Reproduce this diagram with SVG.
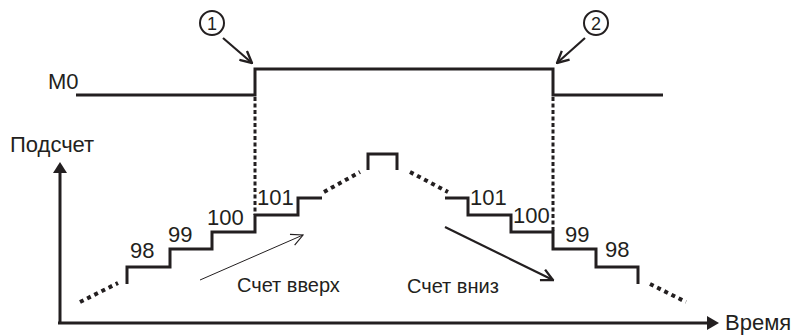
<svg xmlns="http://www.w3.org/2000/svg" width="798" height="335" viewBox="0 0 798 335">
<style>
.t{font-family:"Liberation Sans",Arial,sans-serif;font-size:22px;fill:#231f20}
.s{font-family:"Liberation Sans",Arial,sans-serif;font-size:20px;fill:#231f20}
.c{font-family:"Liberation Sans",Arial,sans-serif;font-size:18px;fill:#231f20}
.ln{fill:none;stroke:#231f20;stroke-width:3}
.dash{fill:none;stroke:#231f20;stroke-width:3;stroke-dasharray:4 2.5}
.dots{fill:none;stroke:#231f20;stroke-width:4;stroke-dasharray:4 4}
.ar{fill:none;stroke:#231f20;stroke-width:2.2}
</style>
<defs>
<marker id="openB" viewBox="0 0 12 12" refX="11" refY="6" markerWidth="14" markerHeight="14" orient="auto" markerUnits="userSpaceOnUse">
<path d="M1,1 L11,6 L1,11" fill="none" stroke="#231f20" stroke-width="2"/>
</marker>
<marker id="thin" viewBox="0 0 12 12" refX="11" refY="6" markerWidth="14" markerHeight="14" orient="auto" markerUnits="userSpaceOnUse">
<path d="M1,1 L11,6 L1,11" fill="none" stroke="#231f20" stroke-width="1"/>
</marker>
</defs>
<g id="m0-signal">
<text class="t" x="48" y="89">M0</text>
<polyline class="ln" points="76,95 255,95 255,69 553,69 553,95 663,95"/>
</g>
<g id="marker1">
<circle cx="212" cy="23" r="12" fill="none" stroke="#231f20" stroke-width="2"/>
<text class="c" x="212" y="29.5" text-anchor="middle">1</text>
</g>
<g id="marker2">
<circle cx="596" cy="23" r="12" fill="none" stroke="#231f20" stroke-width="2"/>
<text class="c" x="596" y="29.5" text-anchor="middle">2</text>
</g>
<g id="axes">
<line class="ln" x1="60" y1="170" x2="60" y2="323"/>
<polygon points="60,162 53,173 67,173" fill="#231f20"/>
<line class="ln" x1="58" y1="323" x2="710" y2="323"/>
<polygon points="719,323 707,316 707,330" fill="#231f20"/>
<text class="t" x="10" y="152">Подсчет</text>
<text class="t" x="725" y="330">Время</text>
</g>
<g id="count-steps">
<polyline class="ln" points="127,284 127,267 170,267 170,249 212,249 212,232 255,232 255,215 298,215 298,198 322,198"/>
<polyline class="ln" points="368,170 368,154 397,154 397,170"/>
<polyline class="ln" points="445,198 468,198 468,215 511,215 511,232 553,232 553,249 596,249 596,267 638,267 638,284"/>
<line class="dots" x1="80" y1="302" x2="118" y2="283"/>
<line class="dots" x1="324" y1="192" x2="360" y2="172"/>
<line class="dots" x1="410" y1="172" x2="448" y2="192"/>
<line class="dots" x1="650" y1="284" x2="686" y2="302"/>
<text class="t" x="130" y="258">98</text>
<text class="t" x="168" y="242">99</text>
<text class="t" x="207" y="225">100</text>
<text class="t" x="257" y="205">101</text>
<text class="t" x="470" y="205">101</text>
<text class="t" x="513" y="223">100</text>
<text class="t" x="565" y="242">99</text>
<text class="t" x="605" y="257">98</text>
<text class="s" x="237" y="292">Счет вверх</text>
<text class="s" x="407" y="293">Счет вниз</text>
</g>
<g id="connectors">
<line class="dash" x1="255" y1="97" x2="255" y2="215"/>
<line class="dash" x1="553" y1="97" x2="553" y2="232"/>
<line class="ar" x1="223" y1="38" x2="252" y2="63" marker-end="url(#openB)"/>
<line class="ar" x1="585" y1="38" x2="557" y2="63" marker-end="url(#openB)"/>
<line stroke="#231f20" stroke-width="1" x1="200" y1="280" x2="303" y2="235" marker-end="url(#thin)"/>
<line class="ar" stroke-width="2.5" x1="445" y1="227" x2="553" y2="280" marker-end="url(#openB)"/>
</g>
</svg>
